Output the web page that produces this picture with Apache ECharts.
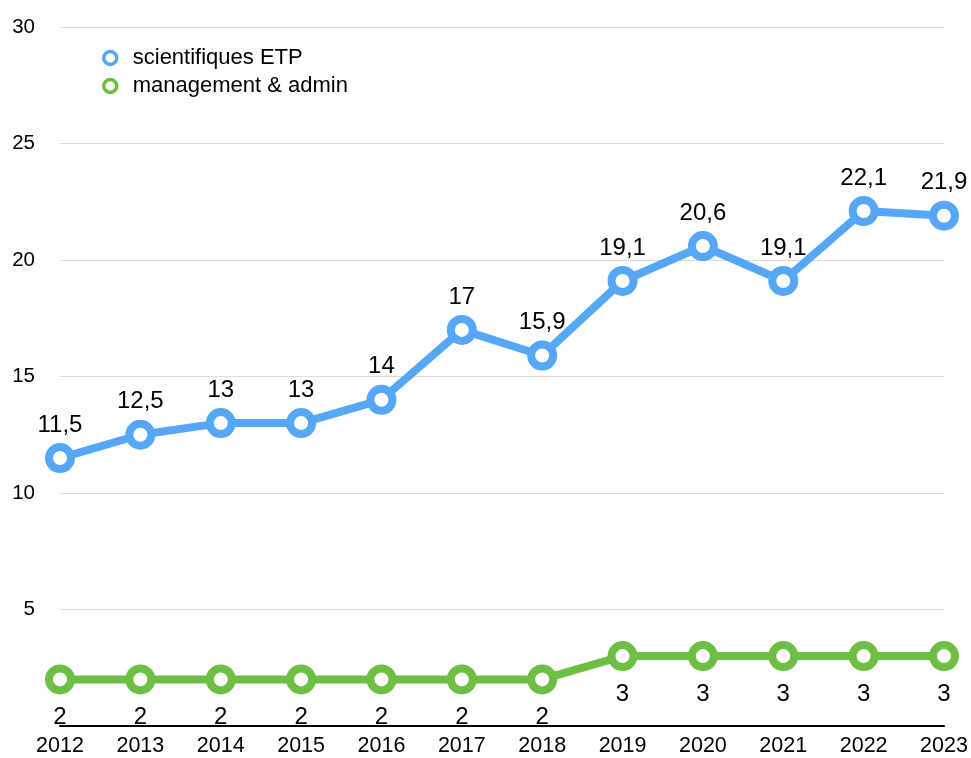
<!DOCTYPE html>
<html>
<head>
<meta charset="utf-8">
<script src="https://cdn.jsdelivr.net/npm/echarts@6/dist/echarts.min.js"></script>
<style>
html,body{margin:0;padding:0;background:#fff;}
#c{width:971px;height:758px;}
</style>
</head>
<body>
<div id="c"></div>
<script>
const years = ['2012','2013','2014','2015','2016','2017','2018','2019','2020','2021','2022','2023'];
const scientifiques = [11.5,12.5,13,13,14,17,15.9,19.1,20.6,19.1,22.1,21.9];
const management = [2,2,2,2,2,2,2,3,3,3,3,3];
const seriesNames = ['scientifiques ETP','management & admin'];

const FONT = '"Liberation Sans", Arial, Helvetica, sans-serif';
const BLUE = '#55a7f6';
const GREEN = '#6dbf43';
const fmt = p => String(p.value).replace('.', ',');

const chart = echarts.init(document.getElementById('c'));
chart.setOption({
  animation: false,
  textStyle: {fontFamily: FONT},
  grid: {left: 60, right: 27, top: 27, bottom: 32, containLabel: false},
  legend: {
    orient: 'vertical',
    left: 97, top: 42,
    icon: 'circle',
    itemWidth: 13, itemHeight: 13,
    itemGap: 6,
    itemStyle: {borderWidth: 3.5, color: '#fff'},
    textStyle: {fontSize: 22, color: '#000', fontFamily: FONT, padding: [0,0,0,11]},
    data: seriesNames
  },
  xAxis: {
    type: 'category',
    data: years,
    boundaryGap: false,
    axisLine: {lineStyle: {color: '#000', width: 2}},
    axisTick: {show: false},
    axisLabel: {fontSize: 21.5, color: '#000', margin: 9, fontFamily: FONT},
    splitLine: {show: false}
  },
  yAxis: {
    type: 'value',
    min: 0, max: 30, interval: 5,
    axisLine: {show: false},
    axisTick: {show: false},
    axisLabel: {fontSize: 20.5, color: '#000', margin: 25, fontFamily: FONT,
      formatter: v => v === 0 ? '' : String(v)},
    splitLine: {lineStyle: {color: '#dcdcdc', width: 1}}
  },
  series: [
    {
      name: seriesNames[0],
      type: 'line',
      data: scientifiques,
      symbol: 'circle',
      symbolSize: 22,
      lineStyle: {color: BLUE, width: 8},
      itemStyle: {color: '#fff', borderColor: BLUE, borderWidth: 8},
      label: {show: true, position: 'top', distance: 6, fontSize: 24, color: '#000', fontFamily: FONT, formatter: fmt},
      z: 3
    },
    {
      name: seriesNames[1],
      type: 'line',
      data: management,
      symbol: 'circle',
      symbolSize: 22,
      lineStyle: {color: GREEN, width: 8},
      itemStyle: {color: '#fff', borderColor: GREEN, borderWidth: 8},
      label: {show: true, position: 'bottom', distance: 11, fontSize: 24, color: '#000', fontFamily: FONT, formatter: fmt},
      z: 2
    }
  ]
});
</script>
</body>
</html>
